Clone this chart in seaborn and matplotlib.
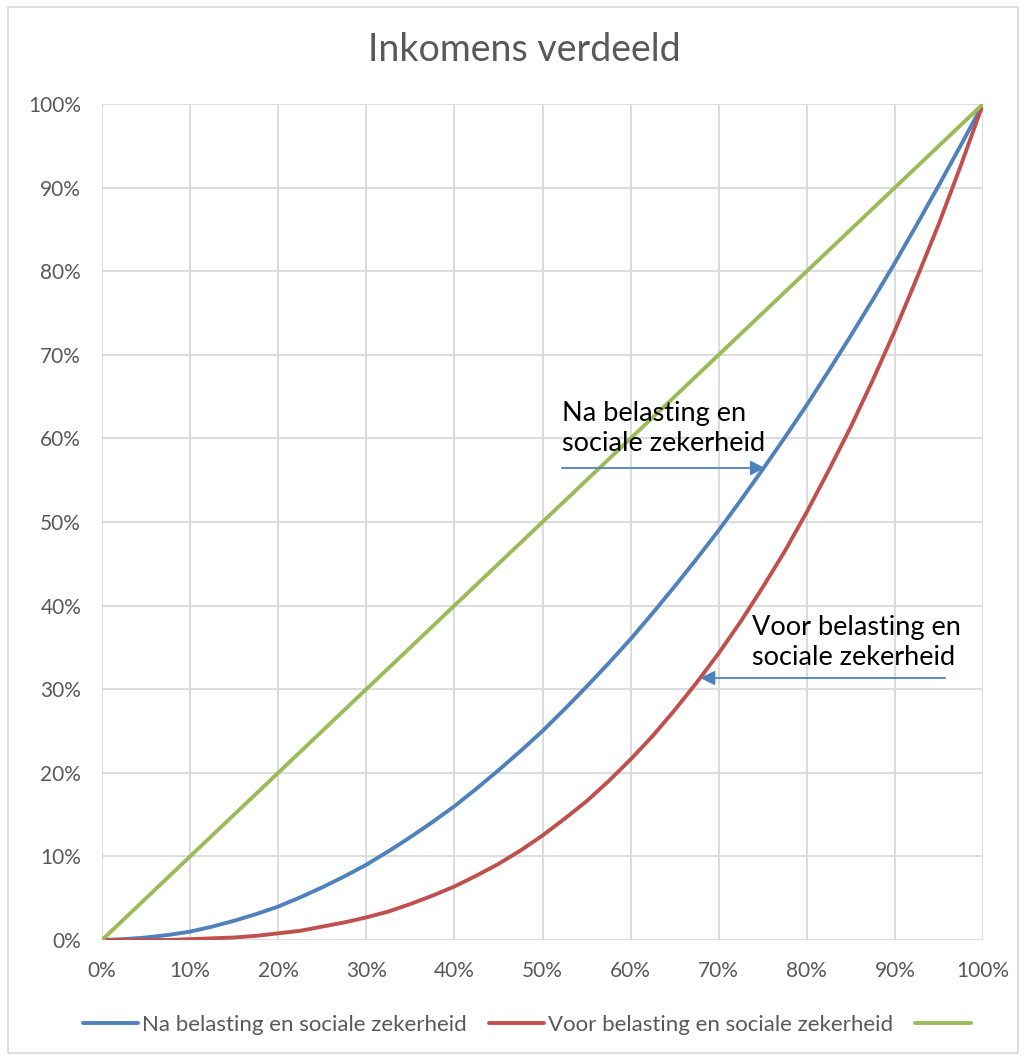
import matplotlib
matplotlib.use("Agg")
import matplotlib.pyplot as plt
import matplotlib.patches as mpatches
from matplotlib.ticker import PercentFormatter
import seaborn as sns
import pandas as pd

# share of population (x) and cumulative share of income (y)
population = [0.000, 0.025, 0.050, 0.075, 0.100, 0.125, 0.150, 0.175, 0.200, 0.225,
              0.250, 0.275, 0.300, 0.325, 0.350, 0.375, 0.400, 0.425, 0.450, 0.475,
              0.500, 0.525, 0.550, 0.575, 0.600, 0.625, 0.650, 0.675, 0.700, 0.725,
              0.750, 0.775, 0.800, 0.825, 0.850, 0.875, 0.900, 0.925, 0.950, 0.975, 1.000]
na_belasting = [0.000, 0.001, 0.003, 0.006, 0.010, 0.016, 0.023, 0.031, 0.040, 0.051,
                0.063, 0.076, 0.090, 0.106, 0.123, 0.141, 0.160, 0.181, 0.203, 0.226,
                0.250, 0.276, 0.303, 0.331, 0.360, 0.391, 0.423, 0.456, 0.490, 0.526,
                0.563, 0.601, 0.640, 0.681, 0.723, 0.766, 0.810, 0.856, 0.903, 0.951, 1.000]
voor_belasting = [0.000, 0.000, 0.000, 0.000, 0.001, 0.002, 0.003, 0.005, 0.008, 0.011,
                  0.016, 0.021, 0.027, 0.034, 0.043, 0.053, 0.064, 0.077, 0.091, 0.107,
                  0.125, 0.145, 0.166, 0.190, 0.216, 0.244, 0.275, 0.308, 0.343, 0.381,
                  0.422, 0.465, 0.512, 0.562, 0.614, 0.670, 0.729, 0.792, 0.857, 0.927, 1.000]
gelijk = [0.000, 0.025, 0.050, 0.075, 0.100, 0.125, 0.150, 0.175, 0.200, 0.225,
          0.250, 0.275, 0.300, 0.325, 0.350, 0.375, 0.400, 0.425, 0.450, 0.475,
          0.500, 0.525, 0.550, 0.575, 0.600, 0.625, 0.650, 0.675, 0.700, 0.725,
          0.750, 0.775, 0.800, 0.825, 0.850, 0.875, 0.900, 0.925, 0.950, 0.975, 1.000]

series_names = ["Na belasting en sociale zekerheid", "Voor belasting en sociale zekerheid", ""]
colors = ["#4F81BD", "#C0504D", "#9BBB59"]

sns.set_style("white")
plt.rcParams['font.family'] = ['Lato', 'DejaVu Sans']

fig = plt.figure(figsize=(10.26, 10.57), dpi=100)
ax = fig.add_axes([102 / 1026, 1 - 940 / 1057, 881 / 1026, 836 / 1057])

handles = []
for name, vals, col in zip(series_names, [na_belasting, voor_belasting, gelijk], colors):
    df = pd.DataFrame({"x": population, "y": vals})
    sns.lineplot(data=df, x="x", y="y", ax=ax, color=col, linewidth=2.8, zorder=3)
    handles.append(plt.Line2D([], [], color=col, linewidth=2.8))

ax.set_xlim(0, 1)
ax.set_ylim(0, 1)
ticks = [i / 10 for i in range(11)]
ax.set_xticks(ticks)
ax.set_yticks(ticks)
ax.xaxis.set_major_formatter(PercentFormatter(1.0, decimals=0))
ax.yaxis.set_major_formatter(PercentFormatter(1.0, decimals=0))
ax.grid(True, color="#d9d9d9", linewidth=1.3)
for s in ax.spines.values():
    s.set_visible(False)
ax.tick_params(length=0, labelsize=15, labelcolor="#595959", pad=15)
ax.set_xlabel("")
ax.set_ylabel("")

fig.text(0.511, 1 - 50 / 1057, "Inkomens verdeeld", ha="center", va="center",
         fontsize=27, color="#595959")

# annotations with arrows
ax.text(0.522, 0.612, "Na belasting en\nsociale zekerheid", fontsize=19.5,
        color="black", va="center", ha="left", linespacing=1.25)
ax.annotate("", xy=(0.7526, 0.5646), xytext=(0.522, 0.5646),
            arrowprops=dict(arrowstyle="-|>", color="#4F81BD", lw=1.3,
                            mutation_scale=22, shrinkA=0, shrinkB=0), zorder=4)
ax.text(0.738, 0.356, "Voor belasting en\nsociale zekerheid", fontsize=19.5,
        color="black", va="center", ha="left", linespacing=1.25)
ax.annotate("", xy=(0.679, 0.3134), xytext=(0.957, 0.3134),
            arrowprops=dict(arrowstyle="-|>", color="#4F81BD", lw=1.3,
                            mutation_scale=22, shrinkA=0, shrinkB=0), zorder=4)

fig.legend(handles, series_names, loc="center", bbox_to_anchor=(0.515, 1 - 1025 / 1057),
           ncol=3, frameon=False, fontsize=16, labelcolor="#595959",
           handlelength=2.5, handletextpad=0.15, columnspacing=1.0)

# outer chart border
fig.patches.append(mpatches.Rectangle((8 / 1026, 4 / 1057), 1010 / 1026, 1046 / 1057,
                                      transform=fig.transFigure, fill=False,
                                      edgecolor="#d9d9d9", linewidth=1.2))

fig.savefig("out.png", dpi=100)
